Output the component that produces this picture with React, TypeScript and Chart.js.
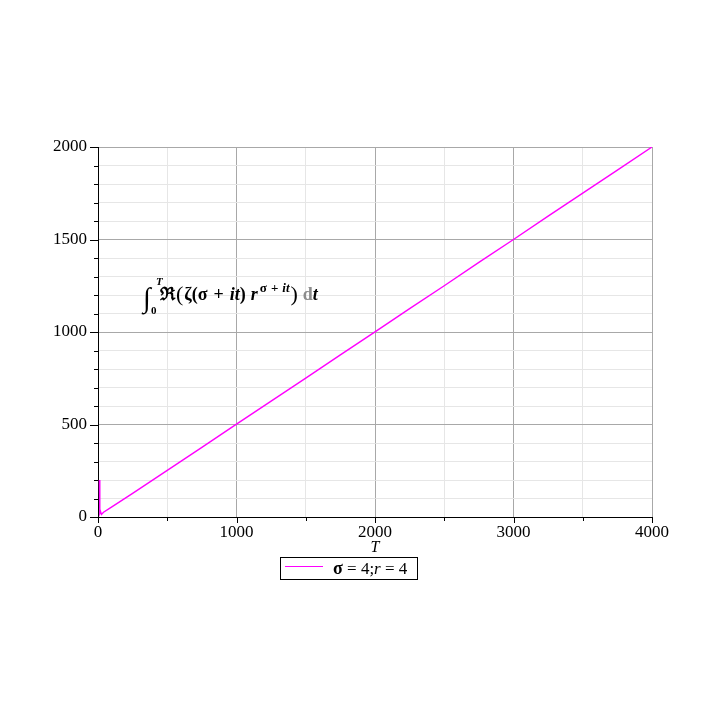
import React, { useEffect, useRef } from "react";
import { Chart, registerables } from "chart.js";

Chart.register(...registerables);

const FONT = "'Liberation Serif', 'Times New Roman', serif";

// Data
const T_VALUES = [10, 12, 14, 18, 25, 40, 100, 250, 500, 750, 1000, 1250, 1500, 1750, 2000, 2250, 2500, 2750, 3000, 3250, 3500, 3750, 4000];
const INTEGRAL_VALUES = [200, 60, 20, 30, 14, 26, 55, 128, 252, 376, 502, 626, 751, 876, 1001, 1126, 1250, 1376, 1500, 1626, 1751, 1875, 2000];
const X_TICK_LABELS = [0, 1000, 2000, 3000, 4000];
const Y_TICK_LABELS = [0, 500, 1000, 1500, 2000];
const SERIES_LABEL = "σ = 4;r = 4";
const X_TITLE = "T";

type Run = { text: string; font: string; dy?: number; color?: string; gap?: number };

function drawRuns(ctx: CanvasRenderingContext2D, x: number, y: number, runs: Run[]) {
  let cx = x;
  for (const r of runs) {
    cx += r.gap || 0;
    ctx.font = r.font;
    ctx.fillStyle = r.color || "#000";
    ctx.fillText(r.text, cx, y + (r.dy || 0));
    cx += ctx.measureText(r.text).width;
  }
  return cx;
}

const decor = {
  id: "decor",
  afterDraw(chart: any) {
    const ctx: CanvasRenderingContext2D = chart.ctx;
    const { left, bottom } = chart.chartArea;
    const xs = chart.scales.x;
    const ys = chart.scales.y;
    ctx.save();
    // tick marks
    ctx.strokeStyle = "#000";
    ctx.lineWidth = 1;
    ctx.beginPath();
    for (const t of ys.ticks) {
      const py = Math.round(ys.getPixelForValue(t.value)) + 0.5;
      const len = Y_TICK_LABELS.includes(t.value) ? 8 : 4;
      ctx.moveTo(left - len, py);
      ctx.lineTo(left, py);
    }
    for (const t of xs.ticks) {
      const px = Math.round(xs.getPixelForValue(t.value)) + 0.5;
      const len = X_TICK_LABELS.includes(t.value) ? 6 : 4;
      ctx.moveTo(px, bottom);
      ctx.lineTo(px, bottom + len);
    }
    ctx.stroke();

    // formula annotation
    ctx.textBaseline = "alphabetic";
    ctx.textAlign = "left";
    ctx.font = `28px ${FONT}`;
    ctx.fillStyle = "#000";
    ctx.fillText("∫", 143, 307);
    drawRuns(ctx, 156, 285, [{ text: "T", font: `italic bold 11px ${FONT}` }]);
    drawRuns(ctx, 151, 314, [{ text: "0", font: `bold 11px ${FONT}` }]);
    const B = `bold 18px ${FONT}`;
    const BI = `italic bold 18px ${FONT}`;
    const S = `bold 13px ${FONT}`;
    const SI = `italic bold 13px ${FONT}`;
    drawRuns(ctx, 160, 300, [
      { text: "ℜ", font: `bold 18px ${FONT}` },
      { text: "(", font: `22px ${FONT}`, dy: 1, gap: 1 },
      { text: "ζ(σ", font: B, gap: 1 },
      { text: "+", font: B, gap: 6 },
      { text: "it", font: BI, gap: 6 },
      { text: ")", font: B },
      { text: "r", font: BI, gap: 5 },
      { text: "σ", font: S, dy: -8, gap: 2 },
      { text: "+", font: S, dy: -8, gap: 4 },
      { text: "it", font: SI, dy: -8, gap: 4 },
      { text: ")", font: `22px ${FONT}`, dy: 1, gap: 1 },
      { text: "d", font: B, color: "#8c8c8c", gap: 5 },
      { text: "t", font: BI },
    ]);

    // legend box
    const ds = chart.data.datasets[0];
    ctx.strokeStyle = "#000";
    ctx.lineWidth = 1;
    ctx.strokeRect(280.5, 557.5, 137, 22);
    ctx.strokeStyle = ds.borderColor;
    ctx.beginPath();
    ctx.moveTo(285, 566.5);
    ctx.lineTo(323, 566.5);
    ctx.stroke();
    const [a, b] = String(ds.label).split(";");
    drawRuns(ctx, 333, 574, [
      { text: a.slice(0, 1), font: `bold 18px ${FONT}` },
      { text: a.slice(1) + ";", font: `17px ${FONT}` },
      { text: b.slice(0, 1), font: `italic 17px ${FONT}` },
      { text: b.slice(1), font: `17px ${FONT}` },
    ]);
    ctx.restore();
  },
};

export default function App() {
  const ref = useRef<HTMLCanvasElement>(null);
  useEffect(() => {
    const data = T_VALUES.map((t, i) => ({ x: t, y: INTEGRAL_VALUES[i] }));
    const chart = new Chart(ref.current!, {
      type: "line",
      data: {
        datasets: [
          {
            label: SERIES_LABEL,
            data,
            borderColor: "#ff00ff",
            borderWidth: 1.4,
            pointRadius: 0,
            tension: 0,
            fill: false,
          },
        ],
      },
      options: {
        animation: false,
        responsive: false,
        layout: { padding: { top: 147, right: 68, bottom: 161, left: 0 } },
        plugins: { legend: { display: false }, tooltip: { enabled: false } },
        scales: {
          x: {
            type: "linear",
            min: 0,
            max: 4000,
            ticks: {
              stepSize: 500,
              autoSkip: false,
              maxRotation: 0,
              padding: 5,
              color: "#000",
              font: { family: FONT, size: 17 },
              callback: (v: any) => (X_TICK_LABELS.includes(Number(v)) ? String(v) : ""),
            },
            grid: {
              drawTicks: false,
              lineWidth: 1,
              color: (c: any) => (c.tick && X_TICK_LABELS.includes(c.tick.value) ? "#a8a8a8" : "#e6e6e6"),
            },
            border: { color: "#000", width: 1 },
            title: {
              display: true,
              text: X_TITLE,
              color: "#000",
              font: { family: FONT, size: 16, style: "italic" },
              padding: { top: 0, bottom: 2 },
            },
            afterFit: (s: any) => {
              s.height = 42;
            },
          },
          y: {
            type: "linear",
            min: 0,
            max: 2000,
            ticks: {
              stepSize: 100,
              autoSkip: false,
              padding: 11,
              color: "#000",
              font: { family: FONT, size: 17 },
              callback: (v: any) => (Y_TICK_LABELS.includes(Number(v)) ? String(v) : ""),
            },
            grid: {
              drawTicks: false,
              lineWidth: 1,
              color: (c: any) => (c.tick && Y_TICK_LABELS.includes(c.tick.value) ? "#a8a8a8" : "#e6e6e6"),
            },
            border: { color: "#000", width: 1 },
            afterFit: (s: any) => {
              s.width = 98;
            },
          },
        },
      },
      plugins: [decor],
    });
    return () => chart.destroy();
  }, []);
  return (
    <div style={{ position: "fixed", left: 0, top: 0, width: 720, height: 720, background: "#fff" }}>
      <canvas ref={ref} width={720} height={720} style={{ display: "block" }} />
    </div>
  );
}
